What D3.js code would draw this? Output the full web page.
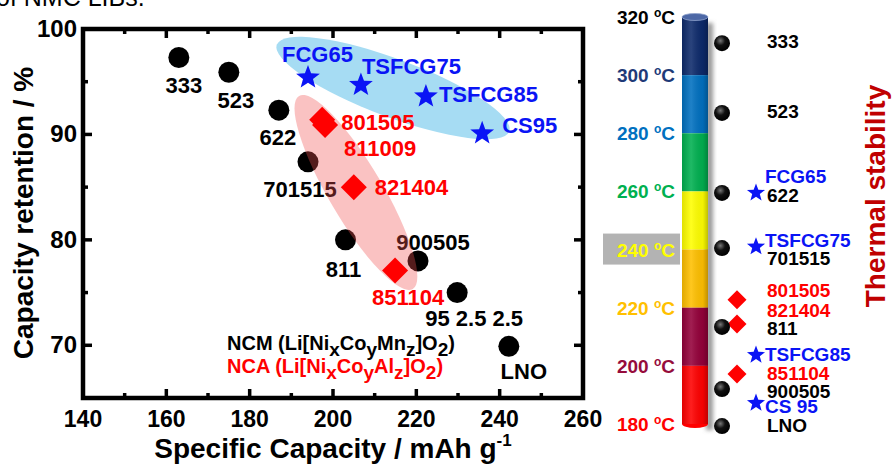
<!DOCTYPE html>
<html>
<head>
<meta charset="utf-8">
<script src="https://cdn.jsdelivr.net/npm/d3@7"></script>
<style>
  body { margin: 0; background: #fff; }
  svg { display: block; font-family: "Liberation Sans", Arial, sans-serif; font-weight: bold; }
</style>
</head>
<body>
<div id="chart"></div>
<script>
// ---- main scatter data ----
const ncmNames = ["333", "523", "622", "701515", "811", "900505", "95 2.5 2.5", "LNO"];
const ncmCapacity = [163, 175, 187, 194, 203, 220.4, 229.8, 242.2];
const ncmRetention = [97.3, 95.9, 92.3, 87.4, 80.0, 78.0, 75.0, 69.9];

const ncaNames = ["801505", "811009", "821404", "851104"];
const ncaCapacity = [197.4, 198.1, 205, 214.9];
const ncaRetention = [91.4, 90.9, 85.0, 77.1];

const fcgNames = ["FCG65", "TSFCG75", "TSFCG85", "CS95"];
const fcgCapacity = [194, 206.7, 222.3, 235.8];
const fcgRetention = [95.4, 94.7, 93.6, 90.1];

// shaded groups (centre in data units)
const groupCentreCapacity = [214.4, 205.5];
const groupCentreRetention = [94.4, 84.5];

const xTicks = [140, 160, 180, 200, 220, 240, 260];
const yTicks = [70, 80, 90, 100];

// ---- thermal stability bar ----
const tempTicks = [320, 300, 280, 260, 240, 220, 200, 180];
const tempColors = ["#000000", "#1f3a78", "#0070c0", "#00b050", "#ffff00", "#ffc000", "#960c3c", "#ff0000"];
const segColors = ["#0d2a6b", "#0070c0", "#00b050", "#ffff00", "#ffc000", "#94003a", "#ff0000"];

const markerNames = ["333", "523", "622", "FCG65", "701515", "TSFCG75", "801505", "821404", "811", "TSFCG85", "851104", "900505", "CS 95", "LNO"];
const markerKinds = ["circle", "circle", "circle", "star", "circle", "star", "diamond", "diamond", "circle", "star", "diamond", "circle", "star", "circle"];
const markerTemps = [311, 287, 259.5, 259.5, 240.5, 241, 222.7, 214.4, 213.4, 203.7, 197.2, 192, 187.2, 179.3];

const labelTexts = ["333", "523", "FCG65", "622", "TSFCG75", "701515", "801505", "821404", "811", "TSFCG85", "851104", "900505", "CS 95", "LNO"];
const labelKinds = ["circle", "circle", "star", "circle", "star", "circle", "diamond", "diamond", "circle", "star", "diamond", "circle", "star", "circle"];
const labelTemps = [309.3, 285.3, 262.9, 256.2, 240.9, 234.7, 223.7, 216.8, 210.6, 201.7, 195.1, 188.9, 183.8, 177.2];

const BLUE = "#0a14f5", RED = "#ff0000";
const kindColor = { circle: "#000", star: BLUE, diamond: RED };

const W = 893, H = 464;
const svg = d3.select("#chart").append("svg").attr("width", W).attr("height", H);
const defs = svg.append("defs");

const x = d3.scaleLinear().domain([140, 260]).range([83, 583]);
const y = d3.scaleLinear().domain([65, 100]).range([398, 29]);

function starPath(r) {
  const pts = [];
  for (let i = 0; i < 10; i++) {
    const rr = i % 2 ? r * 0.42 : r;
    const a = -Math.PI / 2 + i * Math.PI / 5;
    pts.push([rr * Math.cos(a), rr * Math.sin(a)]);
  }
  return "M" + pts.join("L") + "Z";
}
function diamondPath(h) {
  return `M0,${-h}L${h},0L0,${h}L${-h},0Z`;
}

// cut-off caption line at the very top
svg.append("text").attr("x", -4).attr("y", 6)
  .style("font-weight", "normal").style("font-size", "25px").text("of NMC LIBs.");

// ---- main plot ----
const plot = svg.append("g");

// blue group ellipse (behind)
plot.append("ellipse")
  .attr("cx", x(groupCentreCapacity[0])).attr("cy", y(groupCentreRetention[0]))
  .attr("rx", 124).attr("ry", 29)
  .attr("transform", `rotate(20.5 ${x(groupCentreCapacity[0])} ${y(groupCentreRetention[0])})`)
  .attr("fill", "#a6dcf3");

// NCM circles + labels
const ncmLabel = {
  "333": [5, 36], "523": [7, 36], "622": [-1, 35], "701515": [-8, 35],
  "811": [-2, 37], "900505": [15, -11], "95 2.5 2.5": [17, 33], "LNO": [15, 33]
};
plot.append("g").selectAll("circle").data(ncmNames).join("circle")
  .attr("cx", (d, i) => x(ncmCapacity[i])).attr("cy", (d, i) => y(ncmRetention[i]))
  .attr("r", 10.5).attr("fill", "#000");
plot.append("g").selectAll("text").data(ncmNames).join("text")
  .attr("x", (d, i) => x(ncmCapacity[i]) + ncmLabel[d][0])
  .attr("y", (d, i) => y(ncmRetention[i]) + ncmLabel[d][1])
  .attr("text-anchor", "middle").style("font-size", "22px").text(d => d);

// pink group ellipse (translucent, on top of black)
plot.append("ellipse")
  .attr("cx", x(groupCentreCapacity[1])).attr("cy", y(groupCentreRetention[1]))
  .attr("rx", 112).attr("ry", 27)
  .attr("transform", `rotate(59.5 ${x(groupCentreCapacity[1])} ${y(groupCentreRetention[1])})`)
  .attr("fill", "#f05050").attr("opacity", 0.35);

// NCA diamonds + labels
const ncaLabel = { "801505": [19, 10, "start"], "811009": [19, 31, "start"], "821404": [21, 8, "start"], "851104": [13, 35, "middle"] };
plot.append("g").selectAll("path").data(ncaNames).join("path")
  .attr("transform", (d, i) => `translate(${x(ncaCapacity[i])},${y(ncaRetention[i])})`)
  .attr("d", diamondPath(13)).attr("fill", RED);
plot.append("g").selectAll("text").data(ncaNames).join("text")
  .attr("x", (d, i) => x(ncaCapacity[i]) + ncaLabel[d][0])
  .attr("y", (d, i) => y(ncaRetention[i]) + ncaLabel[d][1])
  .attr("text-anchor", d => ncaLabel[d][2])
  .attr("fill", RED).style("font-size", "22px").text(d => d);

// gradient (FCG) stars + labels
const fcgLabel = { "FCG65": [-26, -15], "TSFCG75": [1, -11], "TSFCG85": [13, 6], "CS95": [20, 0] };
plot.append("g").selectAll("path").data(fcgNames).join("path")
  .attr("transform", (d, i) => `translate(${x(fcgCapacity[i])},${y(fcgRetention[i])})`)
  .attr("d", starPath(12.5)).attr("fill", BLUE);
plot.append("g").selectAll("text").data(fcgNames).join("text")
  .attr("x", (d, i) => x(fcgCapacity[i]) + fcgLabel[d][0])
  .attr("y", (d, i) => y(fcgRetention[i]) + fcgLabel[d][1])
  .attr("fill", BLUE).style("font-size", "22px").text(d => d);

// legend with subscripts
function formula(g, yPos, color, parts) {
  const t = g.append("text").attr("x", 227).attr("y", yPos).attr("fill", color).style("font-size", "20px");
  let shift = 0;
  parts.forEach(p => {
    if (p.sub) {
      t.append("tspan").attr("dy", 6 - shift).style("font-size", "19px").text(p.sub);
      shift = 6;
    } else {
      t.append("tspan").attr("dy", -shift).text(p.t);
      shift = 0;
    }
  });
}
formula(plot, 350, "#000", [{ t: "NCM (Li[Ni" }, { sub: "x" }, { t: "Co" }, { sub: "y" }, { t: "Mn" }, { sub: "z" }, { t: "]O" }, { sub: "2" }, { t: ")" }]);
formula(plot, 373, RED, [{ t: "NCA (Li[Ni" }, { sub: "x" }, { t: "Co" }, { sub: "y" }, { t: "Al" }, { sub: "z" }, { t: "]O" }, { sub: "2" }, { t: ")" }]);

// frame and inward ticks
const axes = svg.append("g");
const xMinor = d3.range(150, 260, 20), yMinor = [75, 85, 95];
axes.append("g").selectAll("line").data(xTicks.concat(xMinor)).join("line")
  .attr("x1", d => x(d)).attr("x2", d => x(d))
  .attr("y1", 398).attr("y2", d => 398 - (xTicks.includes(d) ? 9 : 5))
  .attr("stroke", "#000").attr("stroke-width", 3.5);
axes.append("g").selectAll("line").data(xTicks.concat(xMinor)).join("line")
  .attr("x1", d => x(d)).attr("x2", d => x(d))
  .attr("y1", 29).attr("y2", d => 29 + (xTicks.includes(d) ? 9 : 5))
  .attr("stroke", "#000").attr("stroke-width", 3.5);
axes.append("g").selectAll("line").data(yTicks.concat(yMinor)).join("line")
  .attr("y1", d => y(d)).attr("y2", d => y(d))
  .attr("x1", 83).attr("x2", d => 83 + (yTicks.includes(d) ? 9 : 5))
  .attr("stroke", "#000").attr("stroke-width", 3.5);
axes.append("g").selectAll("line").data(yTicks.concat(yMinor)).join("line")
  .attr("y1", d => y(d)).attr("y2", d => y(d))
  .attr("x1", 583).attr("x2", d => 583 - (yTicks.includes(d) ? 9 : 5))
  .attr("stroke", "#000").attr("stroke-width", 3.5);
axes.append("rect").attr("x", 83).attr("y", 29).attr("width", 500).attr("height", 369)
  .attr("fill", "none").attr("stroke", "#000").attr("stroke-width", 4.5);

axes.append("g").selectAll("text").data(xTicks).join("text")
  .attr("x", d => x(d)).attr("y", 427).attr("text-anchor", "middle")
  .style("font-size", "23px").text(d => d);
axes.append("g").selectAll("text").data(yTicks).join("text")
  .attr("x", 77).attr("y", d => y(d) + 8).attr("text-anchor", "end")
  .style("font-size", "24px").text(d => d);

const xt = axes.append("text").attr("x", 333).attr("y", 458).attr("text-anchor", "middle").style("font-size", "28px");
xt.append("tspan").text("Specific Capacity / mAh g");
xt.append("tspan").attr("dy", -12).style("font-size", "17px").text("-1");
axes.append("text").attr("transform", "translate(33,213) rotate(-90)").attr("text-anchor", "middle")
  .style("font-size", "28px").text("Capacity retention / %");

// ---- thermal stability bar ----
const t = d3.scaleLinear().domain([180, 320]).range([424, 17]);
const bx = 682, bw = 26;

const blur = defs.append("filter").attr("id", "blur").attr("x", "-50%").attr("width", "200%");
blur.append("feGaussianBlur").attr("stdDeviation", 2);
const shade = defs.append("linearGradient").attr("id", "shade");
shade.append("stop").attr("offset", "0%").attr("stop-color", "#000").attr("stop-opacity", 0.12);
shade.append("stop").attr("offset", "35%").attr("stop-color", "#fff").attr("stop-opacity", 0.12);
shade.append("stop").attr("offset", "80%").attr("stop-color", "#000").attr("stop-opacity", 0.05);
shade.append("stop").attr("offset", "100%").attr("stop-color", "#000").attr("stop-opacity", 0.25);
const gloss = defs.append("radialGradient").attr("id", "gloss").attr("cx", "40%").attr("cy", "35%").attr("r", "65%");
gloss.append("stop").attr("offset", "0%").attr("stop-color", "#777");
gloss.append("stop").attr("offset", "45%").attr("stop-color", "#111");
gloss.append("stop").attr("offset", "100%").attr("stop-color", "#000");

const bar = svg.append("g");
bar.append("rect").attr("x", bx + bw - 2).attr("y", t(320) + 6).attr("width", 7).attr("height", t(180) - t(320))
  .attr("fill", "#999").attr("filter", "url(#blur)");
bar.append("g").selectAll("rect").data(segColors).join("rect")
  .attr("x", bx).attr("width", bw)
  .attr("y", (d, i) => t(tempTicks[i]))
  .attr("height", (d, i) => t(tempTicks[i + 1]) - t(tempTicks[i]))
  .attr("fill", d => d);
bar.append("ellipse").attr("cx", bx + bw / 2).attr("cy", t(180)).attr("rx", bw / 2).attr("ry", 4).attr("fill", segColors[6]);
bar.append("rect").attr("x", bx).attr("y", t(320)).attr("width", bw).attr("height", t(180) - t(320))
  .attr("fill", "url(#shade)");
bar.append("ellipse").attr("cx", bx + bw / 2).attr("cy", t(320)).attr("rx", bw / 2).attr("ry", 3.5)
  .attr("fill", "#4d68a6").attr("stroke", "#8fa2cc").attr("stroke-width", 0.8);

// 240 highlight box
bar.append("rect").attr("x", 603).attr("y", t(240) - 16).attr("width", 77).attr("height", 31).attr("fill", "#b3b3b3");

const tl = bar.append("g").selectAll("text").data(tempTicks).join("text")
  .attr("x", 675).attr("y", d => t(d) + 7).attr("text-anchor", "end")
  .attr("fill", (d, i) => tempColors[i]).style("font-size", "19px");
tl.append("tspan").text(d => d + " ");
tl.append("tspan").attr("dy", -7).style("font-size", "12px").text("o");
tl.append("tspan").attr("dy", 7).text("C");

// markers next to the bar
const mx = { circle: 722, diamond: 737, star: 756 };
bar.append("g").selectAll("path").data(markerNames).join("path")
  .attr("transform", (d, i) => `translate(${mx[markerKinds[i]]},${t(markerTemps[i])})`)
  .attr("d", (d, i) => markerKinds[i] === "star" ? starPath(9.5) : markerKinds[i] === "diamond" ? diamondPath(9.5) : d3.symbol(d3.symbolCircle, Math.PI * 64)())
  .attr("fill", (d, i) => markerKinds[i] === "circle" ? "url(#gloss)" : kindColor[markerKinds[i]]);

bar.append("g").selectAll("text").data(labelTexts).join("text")
  .attr("x", (d, i) => labelKinds[i] === "star" ? 765 : 767)
  .attr("y", (d, i) => t(labelTemps[i]))
  .attr("fill", (d, i) => kindColor[labelKinds[i]])
  .style("font-size", "19px").text(d => d);

svg.append("text").attr("transform", "translate(885,196) rotate(-90)").attr("text-anchor", "middle")
  .attr("fill", "#c00000").style("font-size", "28px").text("Thermal stability");
</script>
</body>
</html>
